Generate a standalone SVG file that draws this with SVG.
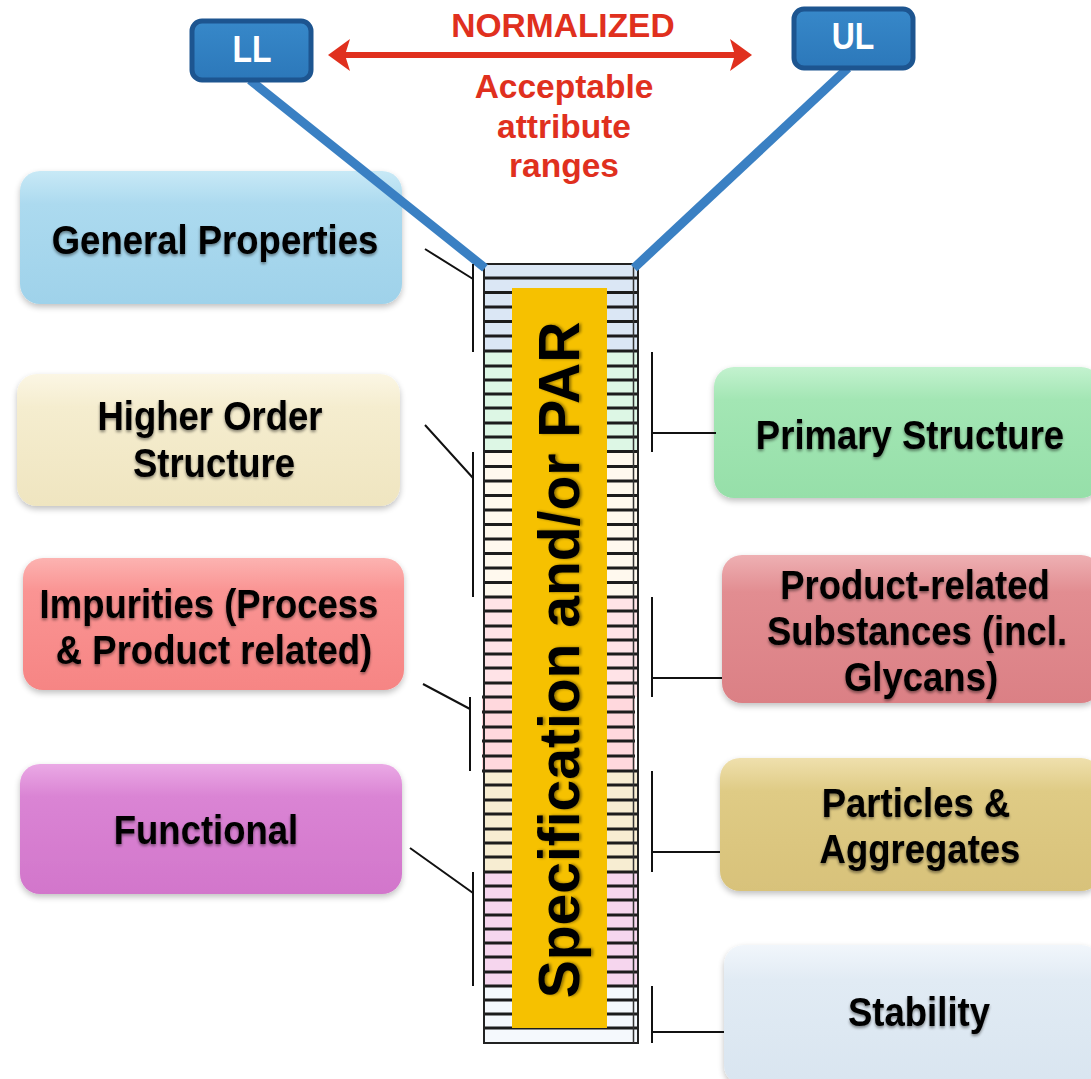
<svg xmlns="http://www.w3.org/2000/svg" width="1091" height="1079" viewBox="0 0 1091 1079">
<style>
.lbl{font-family:"Liberation Sans",Arial,sans-serif;font-weight:bold;font-size:36.5px;fill:#000;text-anchor:middle}
.red{font-family:"Liberation Sans",Arial,sans-serif;font-weight:bold;font-size:33.5px;fill:#e0301e;text-anchor:middle}
.lim{font-family:"Liberation Sans",Arial,sans-serif;font-weight:bold;font-size:32px;fill:#fff;text-anchor:middle}
.con{stroke:#111;stroke-width:2;fill:none}
.blue{stroke:#3a80c3;stroke-width:9;stroke-linecap:butt;fill:none}
.stripe{stroke:#1c1c1c;stroke-width:3;fill:none}
.box{stroke:none}
</style>
<defs>
<filter id="sh" x="-10%" y="-10%" width="120%" height="130%">
<feGaussianBlur in="SourceAlpha" stdDeviation="3"/>
<feOffset dy="3" result="b"/>
<feComponentTransfer><feFuncA type="linear" slope="0.25"/></feComponentTransfer>
<feMerge><feMergeNode/><feMergeNode in="SourceGraphic"/></feMerge>
</filter>
<filter id="ts" x="-5%" y="-20%" width="110%" height="150%">
<feGaussianBlur in="SourceAlpha" stdDeviation="1.5"/>
<feOffset dy="2" result="b"/>
<feComponentTransfer><feFuncA type="linear" slope="0.45"/></feComponentTransfer>
<feMerge><feMergeNode/><feMergeNode in="SourceGraphic"/></feMerge>
</filter>
<linearGradient id="gBlue" x1="0" y1="0" x2="0" y2="1"><stop offset="0" stop-color="#c8e9f6"/><stop offset="0.25" stop-color="#acdaef"/><stop offset="1" stop-color="#9fd2ea"/></linearGradient>
<linearGradient id="gCream" x1="0" y1="0" x2="0" y2="1"><stop offset="0" stop-color="#fbf6e4"/><stop offset="0.25" stop-color="#f5edcf"/><stop offset="1" stop-color="#efe5c0"/></linearGradient>
<linearGradient id="gSalmon" x1="0" y1="0" x2="0" y2="1"><stop offset="0" stop-color="#fcb3b1"/><stop offset="0.25" stop-color="#fa9493"/><stop offset="1" stop-color="#f68584"/></linearGradient>
<linearGradient id="gOrchid" x1="0" y1="0" x2="0" y2="1"><stop offset="0" stop-color="#eaa9e5"/><stop offset="0.25" stop-color="#da84d4"/><stop offset="1" stop-color="#d276cb"/></linearGradient>
<linearGradient id="gGreen" x1="0" y1="0" x2="0" y2="1"><stop offset="0" stop-color="#c3f2cf"/><stop offset="0.25" stop-color="#a3e6b4"/><stop offset="1" stop-color="#96dfa9"/></linearGradient>
<linearGradient id="gRose" x1="0" y1="0" x2="0" y2="1"><stop offset="0" stop-color="#eeb0b3"/><stop offset="0.25" stop-color="#e28d91"/><stop offset="1" stop-color="#db8085"/></linearGradient>
<linearGradient id="gGold" x1="0" y1="0" x2="0" y2="1"><stop offset="0" stop-color="#efe0ad"/><stop offset="0.25" stop-color="#dfcb85"/><stop offset="1" stop-color="#d8c27a"/></linearGradient>
<linearGradient id="gGrey" x1="0" y1="0" x2="0" y2="1"><stop offset="0" stop-color="#f1f6fb"/><stop offset="0.25" stop-color="#e1ebf4"/><stop offset="1" stop-color="#d9e5f0"/></linearGradient>
<linearGradient id="gLim" x1="0" y1="0" x2="0" y2="1"><stop offset="0" stop-color="#3788c9"/><stop offset="1" stop-color="#2c78ba"/></linearGradient>
<marker id="arr" viewBox="0 0 22 32" refX="5" refY="16" markerWidth="22" markerHeight="32" markerUnits="userSpaceOnUse" orient="auto-start-reverse">
<path d="M0,0 L22,16 L0,32 L5,16 z" fill="#e0301e"/>
</marker>
</defs>
<rect width="1091" height="1079" fill="#fff"/>

<g id="label-normalized">
<text class="red" x="563" y="37">NORMALIZED</text>
<text class="red" x="564" y="98">Acceptable</text>
<text class="red" x="564" y="138">attribute</text>
<text class="red" x="564" y="177">ranges</text>
</g>

<g id="node-column">
<rect x="484" y="264" width="154" height="88" fill="#dbe7f5"/>
<rect x="484" y="352" width="154" height="100" fill="#ddf7e5"/>
<rect x="484" y="452" width="154" height="145" fill="#fff9ee"/>
<rect x="484" y="597" width="154" height="100" fill="#ffe3e7"/>
<rect x="482" y="697" width="153" height="74" fill="#ffd8dd"/>
<rect x="484" y="771" width="154" height="101" fill="#f7edd2"/>
<rect x="484" y="872" width="154" height="114" fill="#f6d6ee"/>
<rect x="484" y="986" width="154" height="57" fill="#f5f9fd"/>
<path class="stripe" d="M484,278 H638 M484,292.5 H638 M484,307 H638 M484,321.5 H638 M484,336 H638 M484,351 H638
M484,366 H638 M484,380 H638 M484,394 H638 M484,408 H638 M484,423 H638 M484,437 H638 M484,451.5 H638
M484,466.5 H638 M484,481 H638 M484,495.5 H638 M484,510 H638 M484,524.5 H638 M484,539 H638 M484,553.5 H638 M484,568 H638 M484,582.5 H638 M484,597 H638
M484,611 H638 M484,626 H638 M484,640 H638 M484,654 H638 M484,668 H638 M484,683 H638
M482,697 H635 M482,712 H635 M482,727 H635 M482,741 H635 M482,756 H635 M482,771 H638
M484,785 H638 M484,800 H638 M484,814 H638 M484,829 H638 M484,843 H638 M484,857 H638 M484,872 H638
M484,886 H638 M484,900 H638 M484,915 H638 M484,929 H638 M484,943 H638 M484,957 H638 M484,972 H638 M484,986 H638
M484,1000 H638 M484,1014 H638 M484,1028 H638"/>
<path d="M484,264 H638 V1043 H484 Z" fill="none" stroke="#222" stroke-width="2"/>
<path d="M633.5,264 V1043" stroke="#333" stroke-width="1.5"/>
<rect x="512" y="288" width="95" height="740" fill="#f6c100"/>
<text transform="translate(579,660) rotate(-90)" font-family="Liberation Sans,Arial,sans-serif" font-weight="bold" font-size="57" text-anchor="middle" fill="#000" filter="url(#ts)">Specification and/or PAR</text>
</g>

<g id="node-general" filter="url(#sh)">
<rect class="box" x="20" y="171" width="382" height="133" rx="20" fill="url(#gBlue)"/>
<text class="lbl" transform="translate(215,254) scale(1,1.12)" filter="url(#ts)">General Properties</text>
</g>
<g id="node-higher" filter="url(#sh)">
<rect class="box" x="17" y="374" width="383" height="132" rx="20" fill="url(#gCream)"/>
<text class="lbl" transform="translate(210,430) scale(1,1.12)" filter="url(#ts)">Higher Order</text>
<text class="lbl" transform="translate(214,477) scale(1,1.12)" filter="url(#ts)">Structure</text>
</g>
<g id="node-impurities" filter="url(#sh)">
<rect class="box" x="23" y="558" width="381" height="132" rx="20" fill="url(#gSalmon)"/>
<text class="lbl" transform="translate(209,618) scale(1,1.12)" filter="url(#ts)">Impurities (Process</text>
<text class="lbl" transform="translate(214,664) scale(1,1.12)" filter="url(#ts)">&amp; Product related)</text>
</g>
<g id="node-functional" filter="url(#sh)">
<rect class="box" x="20" y="764" width="382" height="130" rx="20" fill="url(#gOrchid)"/>
<text class="lbl" transform="translate(206,844) scale(1,1.12)" filter="url(#ts)">Functional</text>
</g>
<g id="node-primary" filter="url(#sh)">
<rect class="box" x="714" y="367" width="387" height="131" rx="20" fill="url(#gGreen)"/>
<text class="lbl" transform="translate(910,449) scale(1,1.12)" filter="url(#ts)">Primary Structure</text>
</g>
<g id="node-product" filter="url(#sh)">
<rect class="box" x="722" y="555" width="379" height="148" rx="20" fill="url(#gRose)"/>
<text class="lbl" transform="translate(915,599) scale(1,1.12)" filter="url(#ts)">Product-related</text>
<text class="lbl" transform="translate(917,645) scale(1,1.12)" filter="url(#ts)">Substances (incl.</text>
<text class="lbl" transform="translate(921,691) scale(1,1.12)" filter="url(#ts)">Glycans)</text>
</g>
<g id="node-particles" filter="url(#sh)">
<rect class="box" x="720" y="758" width="381" height="133" rx="20" fill="url(#gGold)"/>
<text class="lbl" transform="translate(916,817) scale(1,1.12)" filter="url(#ts)">Particles &amp;</text>
<text class="lbl" transform="translate(920,863) scale(1,1.12)" filter="url(#ts)">Aggregates</text>
</g>
<g id="node-stability" filter="url(#sh)">
<rect class="box" x="724" y="945" width="377" height="140" rx="20" fill="url(#gGrey)"/>
<text class="lbl" transform="translate(919,1026) scale(1,1.12)" filter="url(#ts)">Stability</text>
</g>

<g id="connectors">
<path class="blue" d="M250,80 L485,268"/>
<path class="blue" d="M848,68 L634,268"/>
<path d="M345,55 H735" stroke="#e0301e" stroke-width="6" fill="none" marker-start="url(#arr)" marker-end="url(#arr)"/>
<path class="con" d="M425,249 L473,279 M473,264 V352"/>
<path class="con" d="M425,425 L473,478 M473,452 V597"/>
<path class="con" d="M423,684 L470,709 M470,697 V771"/>
<path class="con" d="M410,848 L473,893 M473,872 V986"/>
<path class="con" d="M652,352 V452 M652,433 H716"/>
<path class="con" d="M652,597 V697 M652,678 H722"/>
<path class="con" d="M652,771 V872 M652,852 H720"/>
<path class="con" d="M652,986 V1043 M652,1032 H724"/>
</g>

<g id="node-LL">
<rect x="192" y="21" width="119" height="59" rx="10" fill="url(#gLim)" stroke="#1d5590" stroke-width="5"/>
<text class="lim" transform="translate(252,62) scale(1,1.15)">LL</text>
</g>
<g id="node-UL">
<rect x="794" y="9" width="119" height="59" rx="10" fill="url(#gLim)" stroke="#1d5590" stroke-width="5"/>
<text class="lim" transform="translate(853,49) scale(1,1.15)">UL</text>
</g>
</svg>
